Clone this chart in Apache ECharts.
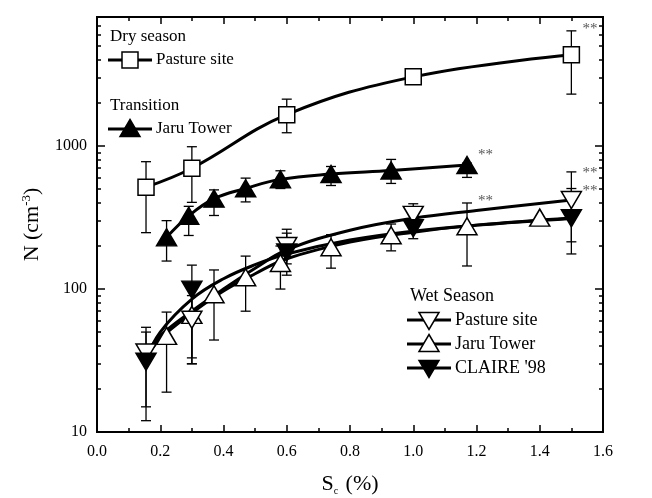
<!DOCTYPE html>
<html>
<head>
<meta charset="utf-8">
<script src="https://cdn.jsdelivr.net/npm/echarts@6/dist/echarts.min.js"></script>
<style>
  html, body { margin: 0; padding: 0; background: #fff; }
  #chart { width: 652px; height: 498px; }
</style>
</head>
<body>
<div id="chart"></div>
<script>
// dry season - pasture site (open squares)
var dryS  = [0.155, 0.3, 0.6, 1.0, 1.5];
var dryN  = [516, 700, 1660, 3050, 4350];
var dryLo = [248, 404, 1240, 3050, 2310];
var dryHi = [778, 990, 2130, 3050, 6400];

// transition - Jaru Tower (filled up triangles)
var trS  = [0.22, 0.29, 0.37, 0.47, 0.58, 0.74, 0.93, 1.17];
var trN  = [230, 325, 429, 506, 585, 637, 675, 737];
var trLo = [157, 237, 327, 407, 505, 530, 548, 604];
var trHi = [301, 379, 494, 597, 672, 720, 807, 760];

// wet season - pasture site (open down triangles)
var wpS  = [0.155, 0.3, 0.6, 1.0, 1.5];
var wpN  = [36, 61, 200, 330, 420];
var wpLo = [15, 33, 150, 300, 214];
var wpHi = [54, 90, 262, 395, 660];

// wet season - Jaru Tower (open up triangles)
var wjS  = [0.22, 0.3, 0.37, 0.47, 0.58, 0.74, 0.93, 1.17, 1.4];
var wjN  = [47, 66, 92, 121, 152, 196, 238, 275, 316];
var wjLo = [19, 30, 44, 70, 100, 140, 185, 145, 316];
var wjHi = [69, 110, 136, 170, 200, 240, 285, 400, 316];

// wet season - CLAIRE '98 (filled down triangles)
var clS  = [0.155, 0.3, 0.6, 1.0, 1.5];
var clN  = [31, 99, 180, 266, 313];
var clLo = [12, 30, 125, 225, 176];
var clHi = [50, 147, 246, 330, 505];

// fitted curves of the wet season
var fitS  = [0.155, 0.2, 0.3, 0.4, 0.5, 0.6, 0.8, 1.0, 1.2, 1.5];
var wpFit = [35, 47, 70, 100, 140, 188, 258, 313, 355, 420];
var wjFit = [33, 45, 68, 97, 128, 163, 213, 250, 280, 314];
var clFit = [32, 50, 85, 118, 148, 176, 220, 254, 280, 312];

// "**" marks, placed where they stand in the figure
var starS = [1.5, 1.17, 1.17, 1.5, 1.5];
var starN = [6690, 879, 419, 658, 492];

var yLabels = [10, 100, 1000];
var yMinor = [20, 30, 40, 50, 60, 70, 80, 90, 200, 300, 400, 500, 600, 700, 800, 900,
              2000, 3000, 4000, 5000, 6000, 7000];

var FONT = '"Liberation Serif", "Times New Roman", serif';

function pairs(xs, ys) {
  return xs.map(function (x, i) { return [x, ys[i]]; });
}
function bars(xs, lo, hi) {
  var d = [];
  for (var i = 0; i < xs.length; i++) {
    if (lo[i] !== hi[i]) d.push([xs[i], lo[i], hi[i]]);
  }
  return d;
}

function renderErr(params, api) {
  var a = api.coord([api.value(0), api.value(1)]);
  var b = api.coord([api.value(0), api.value(2)]);
  var w = 5;
  var st = { stroke: '#000', lineWidth: 1.3 };
  return {
    type: 'group',
    children: [
      { type: 'line', shape: { x1: a[0], y1: a[1], x2: b[0], y2: b[1] }, style: st },
      { type: 'line', shape: { x1: a[0] - w, y1: a[1], x2: a[0] + w, y2: a[1] }, style: st },
      { type: 'line', shape: { x1: b[0] - w, y1: b[1], x2: b[0] + w, y2: b[1] }, style: st }
    ]
  };
}
function renderStar(params, api) {
  var p = api.coord([api.value(0), api.value(1)]);
  return {
    type: 'text', x: p[0] + 11, y: p[1] + 1,
    style: { text: '**', font: '15px ' + FONT, fill: '#555', verticalAlign: 'middle', align: 'left' }
  };
}

function errSeries(xs, lo, hi) {
  return {
    type: 'custom', renderItem: renderErr, data: bars(xs, lo, hi),
    encode: { x: 0, y: [1, 2] }, z: 2, silent: true, clip: false
  };
}
function lineSeries(xs, ys) {
  return {
    type: 'line', data: pairs(xs, ys), smooth: 0.4, symbol: 'none', z: 3, silent: true,
    lineStyle: { color: '#000', width: 3 }
  };
}
function markSeries(xs, ys, symbol, size, fill, rotate) {
  return {
    type: 'scatter', data: pairs(xs, ys), symbol: symbol, symbolSize: size,
    symbolRotate: rotate || 0, z: 4, silent: true,
    itemStyle: { color: fill, borderColor: '#000', borderWidth: 1.5, opacity: 1 }
  };
}

function xAx(pos, labels) {
  return {
    type: 'value', position: pos, min: 0, max: 1.6, interval: 0.2,
    axisLine: { show: true, onZero: false, lineStyle: { color: '#000', width: 2 } },
    axisTick: { show: true, inside: true, length: 7, lineStyle: { color: '#000', width: 1.5 } },
    minorTick: { show: true, splitNumber: 2, length: 4, lineStyle: { color: '#000', width: 1.5 } },
    axisLabel: labels ? {
      show: true, fontFamily: FONT, fontSize: 16, color: '#000', margin: 12,
      formatter: function (v) { return v.toFixed(1); }
    } : { show: false },
    splitLine: { show: false }
  };
}
function yAx(pos, ticks, len, labels) {
  return {
    type: 'log', logBase: 10, min: 10, max: 8000, position: pos,
    axisLine: { show: true, onZero: false, lineStyle: { color: '#000', width: 2 } },
    axisTick: { show: true, inside: true, length: len, customValues: ticks,
                lineStyle: { color: '#000', width: 1.5 } },
    minorTick: { show: false },
    axisLabel: labels ? {
      show: true, customValues: yLabels, fontFamily: FONT, fontSize: 16, color: '#000', margin: 10,
      formatter: function (v) { return String(Math.round(v)); }
    } : { show: false },
    splitLine: { show: false }
  };
}

var yMain = yAx('left', yLabels, 8, true);
yMain.name = 'N (cm{sup|-3})';
yMain.nameLocation = 'middle';
yMain.nameGap = 52;
yMain.nameRotate = 90;
yMain.nameTextStyle = {
  fontFamily: FONT, fontSize: 22, color: '#000',
  rich: { sup: { fontFamily: FONT, fontSize: 13, color: '#000', verticalAlign: 'top', padding: [0, 0, 12, 0] } }
};

var xMain = xAx('bottom', true);
xMain.name = 'S{sub|c} (%)';
xMain.nameLocation = 'middle';
xMain.nameGap = 40;
xMain.nameTextStyle = {
  fontFamily: FONT, fontSize: 22, color: '#000',
  rich: { sub: { fontFamily: FONT, fontSize: 10, color: '#000', padding: [14, 2, 0, 0] } }
};

function legendItem(x, y, shape, fill, label, fs) {
  var items = [
    { type: 'line', shape: { x1: x, y1: y, x2: x + 44, y2: y }, style: { stroke: '#000', lineWidth: 3 }, z: 10 }
  ];
  var cx = x + 22;
  if (shape === 'rect') {
    items.push({ type: 'rect', shape: { x: cx - 8, y: y - 8, width: 16, height: 16 },
                 style: { fill: fill, stroke: '#000', lineWidth: 1.5 }, z: 11 });
  } else if (shape === 'up') {
    items.push({ type: 'polygon', shape: { points: [[cx, y - 9.5], [cx + 10, y + 7.5], [cx - 10, y + 7.5]] },
                 style: { fill: fill, stroke: '#000', lineWidth: 1.5 }, z: 11 });
  } else {
    items.push({ type: 'polygon', shape: { points: [[cx - 10, y - 7.5], [cx + 10, y - 7.5], [cx, y + 9.5]] },
                 style: { fill: fill, stroke: '#000', lineWidth: 1.5 }, z: 11 });
  }
  items.push({ type: 'text', x: x + 48, y: y, z: 11,
               style: { text: label, font: fs + 'px ' + FONT, fill: '#000', verticalAlign: 'middle' } });
  return items;
}
function heading(x, y, t, fs) {
  return { type: 'text', x: x, y: y, z: 11,
           style: { text: t, font: fs + 'px ' + FONT, fill: '#000', verticalAlign: 'middle' } };
}

var graphics = [].concat(
  [heading(110, 37, 'Dry season', 17)],
  legendItem(108, 60, 'rect', '#fff', 'Pasture site', 17),
  [heading(110, 106, 'Transition', 17)],
  legendItem(108, 129, 'up', '#000', 'Jaru Tower', 17),
  [heading(410, 296, 'Wet Season', 18)],
  legendItem(407, 320, 'down', '#fff', 'Pasture site', 18),
  legendItem(407, 344, 'up', '#fff', 'Jaru Tower', 18),
  legendItem(407, 368, 'down', '#000', "CLAIRE '98", 18)
);

var chart = echarts.init(document.getElementById('chart'));
chart.setOption({
  animation: false,
  backgroundColor: '#fff',
  grid: { left: 97, right: 49, top: 17, bottom: 66, containLabel: false, outerBoundsMode: 'none' },
  xAxis: [xMain, xAx('top', false)],
  yAxis: [yMain, yAx('left', yMinor, 4, false), yAx('right', yLabels, 8, false), yAx('right', yMinor, 4, false)],
  graphic: graphics,
  series: [
    errSeries(dryS, dryLo, dryHi),
    errSeries(trS, trLo, trHi),
    errSeries(wpS, wpLo, wpHi),
    errSeries(wjS, wjLo, wjHi),
    errSeries(clS, clLo, clHi),
    lineSeries(dryS, dryN),
    lineSeries(trS, trN),
    lineSeries(fitS, wpFit),
    lineSeries(fitS, wjFit),
    lineSeries(fitS, clFit),
    markSeries(dryS, dryN, 'rect', 16, '#fff'),
    markSeries(trS, trN, 'triangle', [20, 17], '#000'),
    markSeries(wjS, wjN, 'triangle', [20, 17], '#fff'),
    markSeries(wpS, wpN, 'triangle', [20, 17], '#fff', 180),
    markSeries(clS, clN, 'triangle', [20, 17], '#000', 180),
    {
      type: 'custom', renderItem: renderStar, data: pairs(starS, starN),
      encode: { x: 0, y: 1 }, z: 5, silent: true, clip: false
    }
  ]
});
</script>
</body>
</html>
